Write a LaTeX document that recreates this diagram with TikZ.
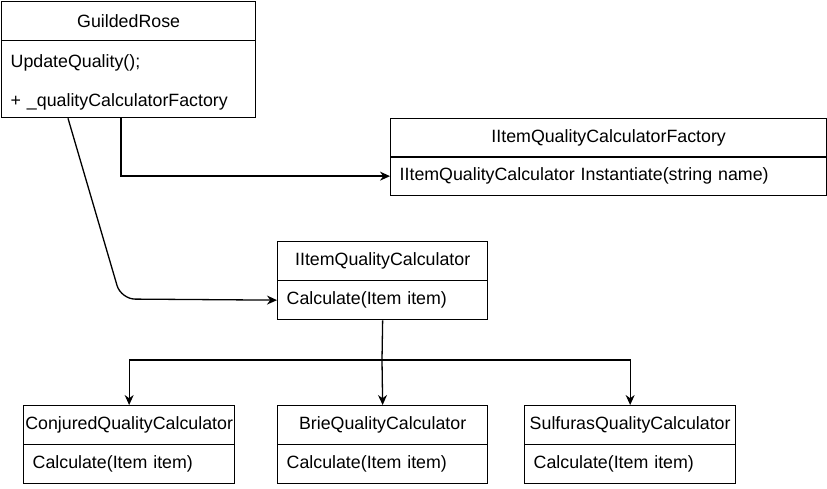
\documentclass[tikz,border=0pt]{standalone}
\usepackage{fontspec}
\setmainfont{Liberation Sans}
\usetikzlibrary{arrows.meta, positioning}

\begin{document}
\begin{tikzpicture}[
    x=1pt, y=-1pt, >={Stealth[length=10pt, width=9pt]},
    line width=1.3pt,
    head/.style={draw, rectangle, anchor=north west, inner sep=0pt,
                 minimum height=39pt, font=\fontsize{17.8}{20}\selectfont},
    body/.style={draw, rectangle, anchor=north west, inner xsep=9pt,
                 inner ysep=0pt, align=left, minimum height=39pt,
                 font=\fontsize{17.8}{39}\selectfont},
    link/.style={->, line width=1.3pt},
  ]
    \useasboundingbox (0,0) rectangle (827,489);

    % GuildedRose
    \node[head, minimum width=254pt] (gr head) at (1,1) {GuildedRose};
    \node[body, text width=236pt, minimum height=77pt] (gr body) at (1,40)
      {\rule{0pt}{20pt}UpdateQuality();\\+ \_qualityCalculatorFactory};

    % Factory
    \node[head, minimum width=436pt] (fac head) at (390,118) {IItemQualityCalculatorFactory};
    \node[body, text width=418pt] (fac body) at (390,156)
      {IItemQualityCalculator Instantiate(string name)};

    % Interface
    \node[head, minimum width=210pt] (iqc head) at (277,241) {IItemQualityCalculator};
    \node[body, text width=192pt] (iqc body) at (277,280) {Calculate(Item item)};

    % Calculators
    \node[head, minimum width=211pt] (conj head) at (23,405) {ConjuredQualityCalculator};
    \node[body, text width=193pt] (conj body) at (23,444) {Calculate(Item item)};
    \node[head, minimum width=210pt] (brie head) at (277,405) {BrieQualityCalculator};
    \node[body, text width=192pt] (brie body) at (277,444) {Calculate(Item item)};
    \node[head, minimum width=211pt] (sulf head) at (524,405) {SulfurasQualityCalculator};
    \node[body, text width=193pt] (sulf body) at (524,444) {Calculate(Item item)};

    % Links
    \coordinate (bend) at (121,299);
    \coordinate (split) at (382,360);
    \draw[link] ([xshift=120pt]gr body.south west) |- (fac body.west);
    \draw[link, rounded corners=14pt] ([xshift=67pt]gr body.south west) -- (bend) -- (iqc body.west);
    \draw (iqc body.south) -- (split);
    \draw[link] (split) -| (conj head.north);
    \draw[link] (split) -- (brie head.north);
    \draw[link] (split) -| (sulf head.north);
  \end{tikzpicture}
\end{document}
